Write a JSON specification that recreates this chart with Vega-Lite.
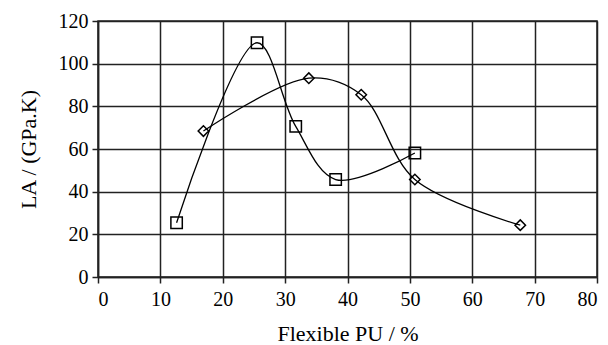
{
  "$schema": "https://vega.github.io/schema/vega-lite/v6.json",
  "autosize": "none",
  "width": 499,
  "height": 256,
  "padding": {"left": 98, "top": 21, "right": 11, "bottom": 68},
  "background": "white",
  "config": {
    "view": {"stroke": "#222", "strokeWidth": 1.5},
    "font": "Liberation Serif",
    "axis": {
      "domainColor": "#222",
      "domainWidth": 1.5,
      "tickColor": "#222",
      "tickWidth": 1.5,
      "tickSize": 6,
      "gridColor": "#222",
      "gridWidth": 1.5,
      "gridOpacity": 1
    }
  },
  "data": {
    "values": [
      {"series": "A", "x": 12.6, "y": 25.4},
      {"series": "A", "x": 25.5, "y": 109.8},
      {"series": "A", "x": 31.7, "y": 70.6},
      {"series": "A", "x": 38.1, "y": 45.7},
      {"series": "A", "x": 50.8, "y": 58.1},
      {"series": "B", "x": 16.9, "y": 68.4},
      {"series": "B", "x": 33.8, "y": 93.2},
      {"series": "B", "x": 42.2, "y": 85.4},
      {"series": "B", "x": 50.8, "y": 45.7},
      {"series": "B", "x": 67.7, "y": 24.3}
    ]
  },
  "encoding": {
    "x": {
      "field": "x", "type": "quantitative",
      "scale": {"domain": [0, 80], "nice": false},
      "axis": {"values": [0,10,20,30,40,50,60,70,80], "title": "Flexible PU / %", "labelFont": "Liberation Serif", "labelFontSize": 20, "labelColor": "#000", "titleFont": "Liberation Serif", "titleFontSize": 22, "titleFontWeight": "normal", "titleColor": "#000", "labelPadding": 6, "titlePadding": 14}
    },
    "y": {
      "field": "y", "type": "quantitative",
      "scale": {"domain": [0, 120], "nice": false},
      "axis": {"values": [0,20,40,60,80,100,120], "title": "LA / (GPa.K)", "labelFont": "Liberation Serif", "labelFontSize": 20, "labelColor": "#000", "titleFont": "Liberation Serif", "titleFontSize": 22, "titleFontWeight": "normal", "titleColor": "#000", "labelPadding": 4, "titlePadding": 18}
    }
  },
  "layer": [
    {
      "mark": {"type": "line", "interpolate": "catmull-rom", "color": "#000", "strokeWidth": 1.3},
      "encoding": {"detail": {"field": "series"}}
    },
    {
      "mark": {"type": "point", "filled": false, "fill": "white", "fillOpacity": 0, "stroke": "#000", "strokeWidth": 1.5, "opacity": 1},
      "encoding": {
        "shape": {"field": "series", "type": "nominal", "scale": {"domain": ["A", "B"], "range": ["square", "diamond"]}, "legend": null},
        "size": {"field": "series", "type": "nominal", "scale": {"domain": ["A", "B"], "range": [130, 110]}, "legend": null}
      }
    }
  ]
}
